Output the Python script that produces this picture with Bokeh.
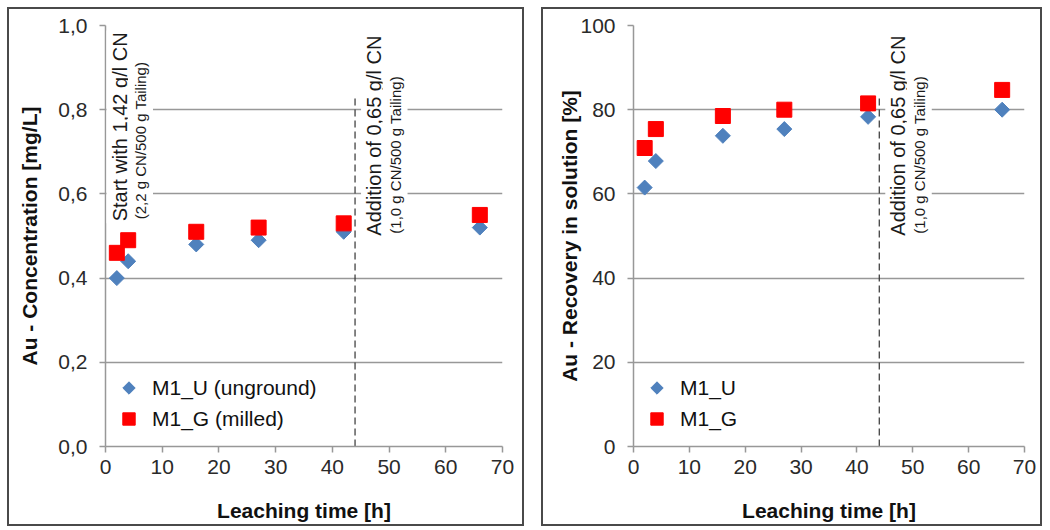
import math
from bokeh.plotting import figure
from bokeh.layouts import row
from bokeh.models import Label, Legend, Range1d, CustomJSTickFormatter, CustomJS
from bokeh.embed import file_html
from bokeh.resources import INLINE

# ---------------- data ----------------
time_h = [2, 4, 16, 27, 42, 66]
conc_unground = [0.40, 0.44, 0.48, 0.49, 0.51, 0.52]
conc_milled = [0.46, 0.49, 0.51, 0.52, 0.53, 0.55]
rec_unground = [61.5, 67.8, 73.8, 75.4, 78.3, 80.0]
rec_milled = [70.9, 75.4, 78.5, 80.0, 81.5, 84.7]

x_ticks = [0, 10, 20, 30, 40, 50, 60, 70]
conc_ticks = [0.0, 0.2, 0.4, 0.6, 0.8, 1.0]
rec_ticks = [0, 20, 40, 60, 80, 100]

cn_addition_time = 44
event_line_top_conc = 0.83
event_line_top_rec = 83.0

start_text = "Start with 1,42 g/l CN"
start_sub = "(2,2 g CN/500 g Tailing)"
add_text = "Addition of 0,65 g/l CN"
add_sub = "(1,0 g CN/500 g Tailing)"

FONT = "Liberation Sans"
BLUE = "#4F81BD"
RED = "#FF0000"
GRID = "#989898"

DIAMOND = CustomJS(code="""
export default (args, obj, {ctx, i, r, visuals}) => {
  ctx.moveTo(0, -r)
  ctx.lineTo(r, 0)
  ctx.lineTo(0, r)
  ctx.lineTo(-r, 0)
  ctx.closePath()
  visuals.fill.apply(ctx, i)
  visuals.hatch.apply(ctx, i)
  visuals.line.apply(ctx, i)
}
""")


def make_panel(width, height, y_end, y_ticks, y_label, border_left, border_right,
               title_standoff, series_u, series_g, line_top, comma_fmt):
    p = figure(width=width, height=height, x_range=Range1d(0, 70), y_range=Range1d(0, y_end),
               output_backend="svg", toolbar_location=None,
               min_border_left=border_left, min_border_right=border_right,
               min_border_top=16, min_border_bottom=82)
    p.background_fill_color = "white"
    p.border_fill_color = "white"
    p.outline_line_color = None

    p.xaxis.ticker = x_ticks
    p.yaxis.ticker = y_ticks
    if comma_fmt:
        p.yaxis.formatter = CustomJSTickFormatter(code="return tick.toFixed(1).replace('.', ',');")
    p.xaxis.axis_label = "Leaching time [h]"
    p.yaxis.axis_label = y_label
    for ax in (p.xaxis, p.yaxis):
        ax.axis_line_color = GRID
        ax.axis_line_width = 1.5
        ax.major_tick_line_color = GRID
        ax.major_tick_line_width = 1.5
        ax.major_tick_in = 0
        ax.major_tick_out = 6
        ax.minor_tick_line_color = None
        ax.major_label_text_font = FONT
        ax.major_label_text_font_size = "21px"
        ax.major_label_text_color = "#2a2a2a"
        ax.axis_label_text_font = FONT
        ax.axis_label_text_font_size = "21px"
        ax.axis_label_text_font_style = "bold"
        ax.axis_label_text_color = "#111111"
    p.yaxis.major_label_standoff = 12
    p.xaxis.major_label_standoff = 7
    p.yaxis.axis_label_standoff = title_standoff
    p.xaxis.axis_label_standoff = 22

    p.xgrid.visible = False
    p.ygrid.grid_line_color = GRID
    p.ygrid.grid_line_width = 1.5

    # event line (CN addition)
    p.segment(x0=[cn_addition_time], y0=[0], x1=[cn_addition_time], y1=[line_top],
              line_color="#333333", line_width=1.2, line_dash="7 4")

    r1 = p.scatter(time_h, series_u[1], marker="@diamond", defs={"@diamond": DIAMOND},
                   size=15, fill_color=BLUE, line_color=BLUE)
    r2 = p.scatter(time_h, series_g[1], marker="square", size=15,
                   fill_color=RED, line_color=RED)

    legend = Legend(items=[(series_u[0], [r1]), (series_g[0], [r2])],
                    location=(8, 12), background_fill_alpha=0, border_line_color=None,
                    label_text_font=FONT, label_text_font_size="21px", label_text_color="#111111",
                    glyph_width=31, glyph_height=31, label_standoff=8, spacing=-3,
                    padding=0, margin=0)
    p.add_layout(legend)
    return p


def add_note(p, x, y, offset1, offset2, text1, text2):
    l1 = Label(x=x, y=y, x_offset=offset1, angle=math.pi / 2, text=text1,
               text_font=FONT, text_font_size="20px", text_color="#1a1a1a",
               text_align="left", text_baseline="middle",
               background_fill_color="white", padding=2)
    l2 = Label(x=x, y=y, x_offset=offset2, angle=math.pi / 2, text=text2,
               text_font=FONT, text_font_size="15px", text_color="#1a1a1a",
               text_align="left", text_baseline="middle",
               background_fill_color="white", padding=4)
    p.add_layout(l1)
    p.add_layout(l2)


p1 = make_panel(517, 519, 1.0, conc_ticks, "Au - Concentration [mg/L]", 96, 24, 14,
                ("M1_U (unground)", conc_unground), ("M1_G (milled)", conc_milled),
                event_line_top_conc, True)
add_note(p1, 0, 0.53, 14, 35, start_text, start_sub)
add_note(p1, cn_addition_time, 0.496, 19, 40, add_text, add_sub)

p2 = make_panel(501, 519, 100, rec_ticks, "Au - Recovery in solution [%]", 90, 20, -4,
                ("M1_U", rec_unground), ("M1_G", rec_milled),
                event_line_top_rec, False)
add_note(p2, cn_addition_time, 49.6, 19, 40, add_text, add_sub)

for p in (p1, p2):
    p.styles = {"border": "2px solid #4a4a4a"}
p1.margin = (7, 0, 0, 7)
p2.margin = (7, 0, 0, 17)

layout = row(p1, p2, spacing=0)
open("out.html", "w").write(file_html(layout, INLINE))
